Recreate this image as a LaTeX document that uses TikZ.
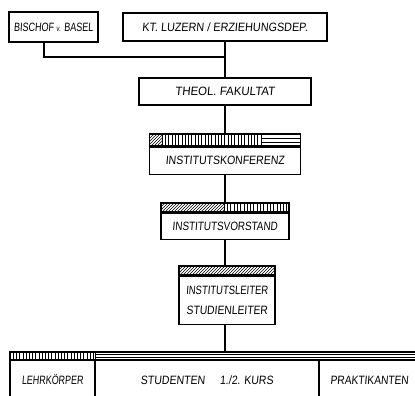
\documentclass[tikz,border=0pt]{standalone}
\usepackage{fontspec}
\setmainfont[FakeSlant=0.1]{Liberation Sans}
\newcommand{\sx}[2]{\scalebox{#1}[1.15]{#2}}
\begin{document}
\begin{tikzpicture}[x=1pt,y=-1pt, line width=1.1pt,
  box/.style={draw, rectangle, inner sep=0pt, font=\fontsize{10.5}{12}\selectfont},
  bar/.style={draw, rectangle, inner sep=0pt},
  hatch/.style={line width=0.6pt},
  conn/.style={line width=1.1pt}]
\clip (0,0) rectangle (415,396);
\fill[white] (0,0) rectangle (415,396);

% top boxes
\node[box, minimum width=89pt, minimum height=30pt] (bischof) at (53.5,27) {\sx{0.86}{BISCHOF {\fontsize{7}{8}\selectfont v.} BASEL}};
\node[box, minimum width=204pt, minimum height=28pt] (luzern) at (225,27) {\sx{1.03}{KT. LUZERN / ERZIEHUNGSDEP.}\hspace{12pt}};
\node[box, minimum width=172pt, minimum height=27pt] (theol) at (225,91.5) {\sx{1.09}{THEOL. FAKULTAT}\hspace{17pt}};

% Institutskonferenz
\node[bar, minimum width=151pt, minimum height=12pt] (konfbar) at (225,140) {};
\node[box, minimum width=151pt, minimum height=27pt, anchor=north] (konf) at (konfbar.south) {\sx{1}{INSTITUTSKONFERENZ}\hspace{5pt}};

% Institutsvorstand
\node[bar, minimum width=128pt, minimum height=9pt] (vorbar) at (225,207.5) {};
\node[box, minimum width=128pt, minimum height=26pt, anchor=north] (vor) at (vorbar.south) {\sx{0.94}{INSTITUTSVORSTAND}};

% Institutsleiter
\node[bar, minimum width=96pt, minimum height=9pt] (leibar) at (227,270.5) {};
\node[box, minimum width=96pt, minimum height=48pt, anchor=north, align=center, font=\fontsize{10.5}{20}\selectfont] (lei) at (leibar.south) {\sx{0.9}{INSTITUTSLEITER}\\\sx{0.98}{STUDIENLEITER}};

% bottom row
\node[bar, minimum width=410pt, minimum height=8pt] (botbar) at (215,356) {};
\node[box, minimum width=85pt, minimum height=40pt] (lehr) at (52.5,380) {\sx{0.85}{LEHRKÖRPER}};
\node[box, minimum width=224pt, minimum height=40pt] (stud) at (207,380) {\sx{1}{STUDENTEN}\hspace{15pt}\sx{1}{1./2. KURS}\hspace{9pt}};
\node[box, minimum width=101pt, minimum height=40pt] (prak) at (369.5,380) {\sx{0.97}{PRAKTIKANTEN}\hspace{7pt}};

% connectors
\coordinate (junction) at (225,57);
\draw[conn] ([xshift=-9.5pt]bischof.south) |- (junction);
\draw[conn] (luzern.south) -- (theol.north);
\draw[conn] (theol.south) -- (konfbar.north);
\draw[conn] (konf.south) -- (vorbar.north);
\draw[conn] (vor.south) -- (vor.south |- leibar.north);
\draw[conn] (vor.south |- lei.south) -- (vor.south |- botbar.north);

% hatching: Institutskonferenz
\begin{scope}
  \clip (150,134) rectangle (162,146);
  \foreach \x in {136,139,...,165} \draw[hatch] (\x,146) -- (\x+12,134);
\end{scope}
\foreach \x in {162,165.3,...,262} \draw[hatch] (\x,134) -- (\x,146);
\draw[hatch] (262,138) -- (300.5,138);
\draw[hatch] (262,142) -- (300.5,142);

% hatching: Institutsvorstand
\begin{scope}
  \clip (161,203) rectangle (224,212);
  \foreach \x in {150,153,...,226} \draw[hatch] (\x,212) -- (\x+9,203);
\end{scope}
\foreach \x in {224,227.3,...,289} \draw[hatch] (\x,203) -- (\x,212);

% hatching: Institutsleiter
\begin{scope}
  \clip (179,266) rectangle (275,275);
  \foreach \x in {168,171,...,278} \draw[hatch] (\x,275) -- (\x+9,266);
\end{scope}

% hatching: bottom bar
\foreach \x in {10,13.2,...,95} \draw[hatch] (\x,352) -- (\x,360);
\draw[hatch] (95,352) -- (95,360);
\draw[hatch] (95,354.7) -- (415,354.7);
\draw[hatch] (95,357.3) -- (415,357.3);
\end{tikzpicture}
\end{document}
